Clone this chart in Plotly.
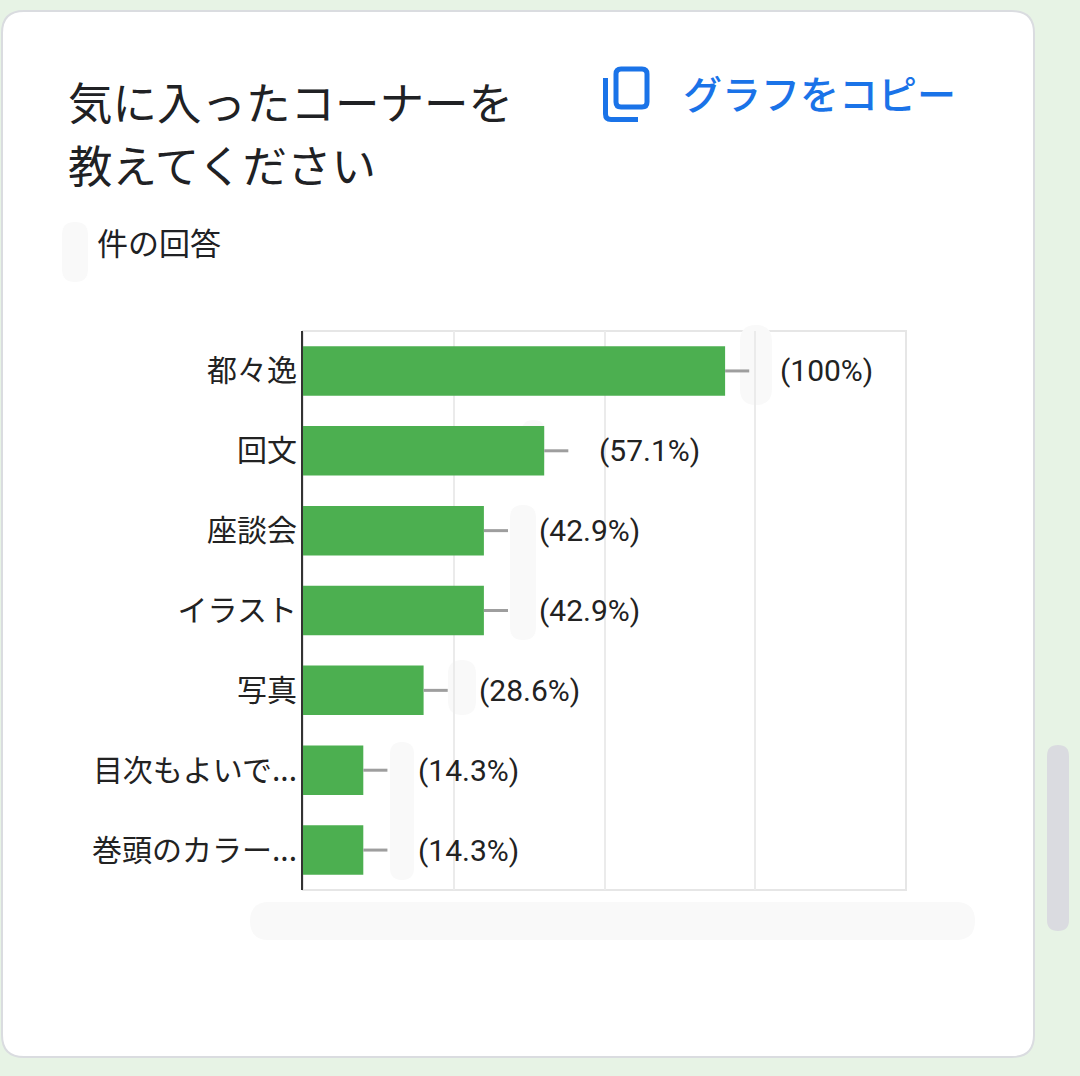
import plotly.graph_objects as go

# データ（回答数は7件、ラベルの件数部分は元画像で隠されている）
categories = ["都々逸", "回文", "座談会", "イラスト", "写真", "目次もよいで...", "巻頭のカラー..."]
counts = [7, 4, 3, 3, 2, 1, 1]
percents = ["100%", "57.1%", "42.9%", "42.9%", "28.6%", "14.3%", "14.3%"]
x_ticks = [0, 2.5, 5, 7.5, 10]

W, H = 1080, 1076
PL, PR, PT, PB = 303, 906, 331, 890  # plot area in pixels


def px(x):
    return (x - PL) / (PR - PL)


def py(y):
    return (PB - y) / (PB - PT)


def rounded_path(x0, y0, x1, y1, r):
    return (f"M {px(x0 + r)},{py(y0)} L {px(x1 - r)},{py(y0)} "
            f"Q {px(x1)},{py(y0)} {px(x1)},{py(y0 + r)} L {px(x1)},{py(y1 - r)} "
            f"Q {px(x1)},{py(y1)} {px(x1 - r)},{py(y1)} L {px(x0 + r)},{py(y1)} "
            f"Q {px(x0)},{py(y1)} {px(x0)},{py(y1 - r)} L {px(x0)},{py(y0 + r)} "
            f"Q {px(x0)},{py(y0)} {px(x0 + r)},{py(y0)} Z")


JP = "Noto Sans CJK JP"
BLUE = "#1a73e8"

fig = go.Figure()
fig.add_trace(go.Bar(
    x=counts, y=categories, orientation="h",
    marker=dict(color="#4caf50", line=dict(width=0)),
    width=0.62,
    error_x=dict(type="constant", value=0.4, valueminus=0, symmetric=False,
                 width=0, color="#9e9e9e", thickness=3),
    hoverinfo="skip",
))

# 値ラベル
for c, cat, p in zip(counts, categories, percents):
    fig.add_annotation(x=c, y=cat, text=f"({p})", showarrow=False,
                       xanchor="left", xshift=53,
                       font=dict(family="Roboto", size=30, color="#222222"))

shapes = []
# カード
shapes.append(dict(type="path", xref="paper", yref="paper", layer="below",
                   path=rounded_path(2, 11, 1034, 1057, 22),
                   fillcolor="white", line=dict(color="#dadce0", width=2)))
# スクロールバー
shapes.append(dict(type="path", xref="paper", yref="paper", layer="below",
                   path=rounded_path(1047, 745, 1069, 931, 11),
                   fillcolor="#dadbe0", line=dict(width=0)))
# プロット枠
shapes.append(dict(type="rect", xref="paper", yref="paper", layer="below",
                   x0=0, x1=1, y0=0, y1=1, line=dict(color="#e6e6e6", width=2)))
# コピーアイコン
shapes.append(dict(type="path", xref="paper", yref="paper",
                   path=rounded_path(616, 69, 647, 107, 5),
                   fillcolor="rgba(0,0,0,0)", line=dict(color=BLUE, width=5)))
shapes.append(dict(type="path", xref="paper", yref="paper",
                   path=(f"M {px(605.5)},{py(78)} L {px(605.5)},{py(114)} "
                         f"Q {px(605.5)},{py(119.5)} {px(611)},{py(119.5)} "
                         f"L {px(638)},{py(119.5)}"),
                   line=dict(color=BLUE, width=5)))
# 隠し跡（元画像の塗りつぶし、ごく薄く）
blob = "#f9f9f9"
shapes.append(dict(type="path", xref="paper", yref="paper", layer="below",
                   path=rounded_path(250, 902, 975, 940, 19),
                   fillcolor=blob, line=dict(width=0)))
shapes.append(dict(type="path", xref="paper", yref="paper", layer="below",
                   path=rounded_path(62, 222, 88, 282, 13),
                   fillcolor=blob, line=dict(width=0)))
for x0, y0, x1, y1 in [(740, 325, 772, 405), (522, 420, 545, 470),
                       (510, 505, 536, 640), (448, 660, 476, 715),
                       (390, 742, 414, 880)]:
    shapes.append(dict(type="path", xref="paper", yref="paper", layer="below",
                       path=rounded_path(x0, y0, x1, y1, (x1 - x0) / 2),
                       fillcolor=blob, line=dict(width=0)))

# テキスト
texts = [
    ("気に入ったコーナーを", 66, 100, 44.5, "#202124", "normal"),
    ("教えてください", 66, 163, 44.5, "#202124", "normal"),
    ("件の回答", 95, 242, 31, "#202124", "normal"),
    ("グラフをコピー", 681, 92, 39, BLUE, 500),
]
for t, x, y, s, col, wt in texts:
    fig.add_annotation(x=px(x), y=py(y), xref="paper", yref="paper", text=t,
                       showarrow=False, xanchor="left", yanchor="middle",
                       font=dict(family=JP, size=s, color=col, weight=wt))

fig.update_layout(
    width=W, height=H,
    margin=dict(l=PL, r=W - PR, t=PT, b=H - PB),
    paper_bgcolor="#e7f3e5",
    plot_bgcolor="white",
    showlegend=False,
    bargap=0.38,
    shapes=shapes,
    xaxis=dict(range=[0, 10], tickvals=x_ticks, showticklabels=False,
               showgrid=True, gridcolor="#ebebeb", gridwidth=2,
               zeroline=False, showline=False, fixedrange=True),
    yaxis=dict(autorange="reversed", showline=True, linecolor="#333333",
               linewidth=2, ticks="", showgrid=False, ticklabelstandoff=-2,
               tickfont=dict(family=JP, size=30, color="#222222"),
               fixedrange=True),
)

fig.write_html("out.html", config={"displayModeBar": False},
               post_script="document.body.style.margin='0';")
